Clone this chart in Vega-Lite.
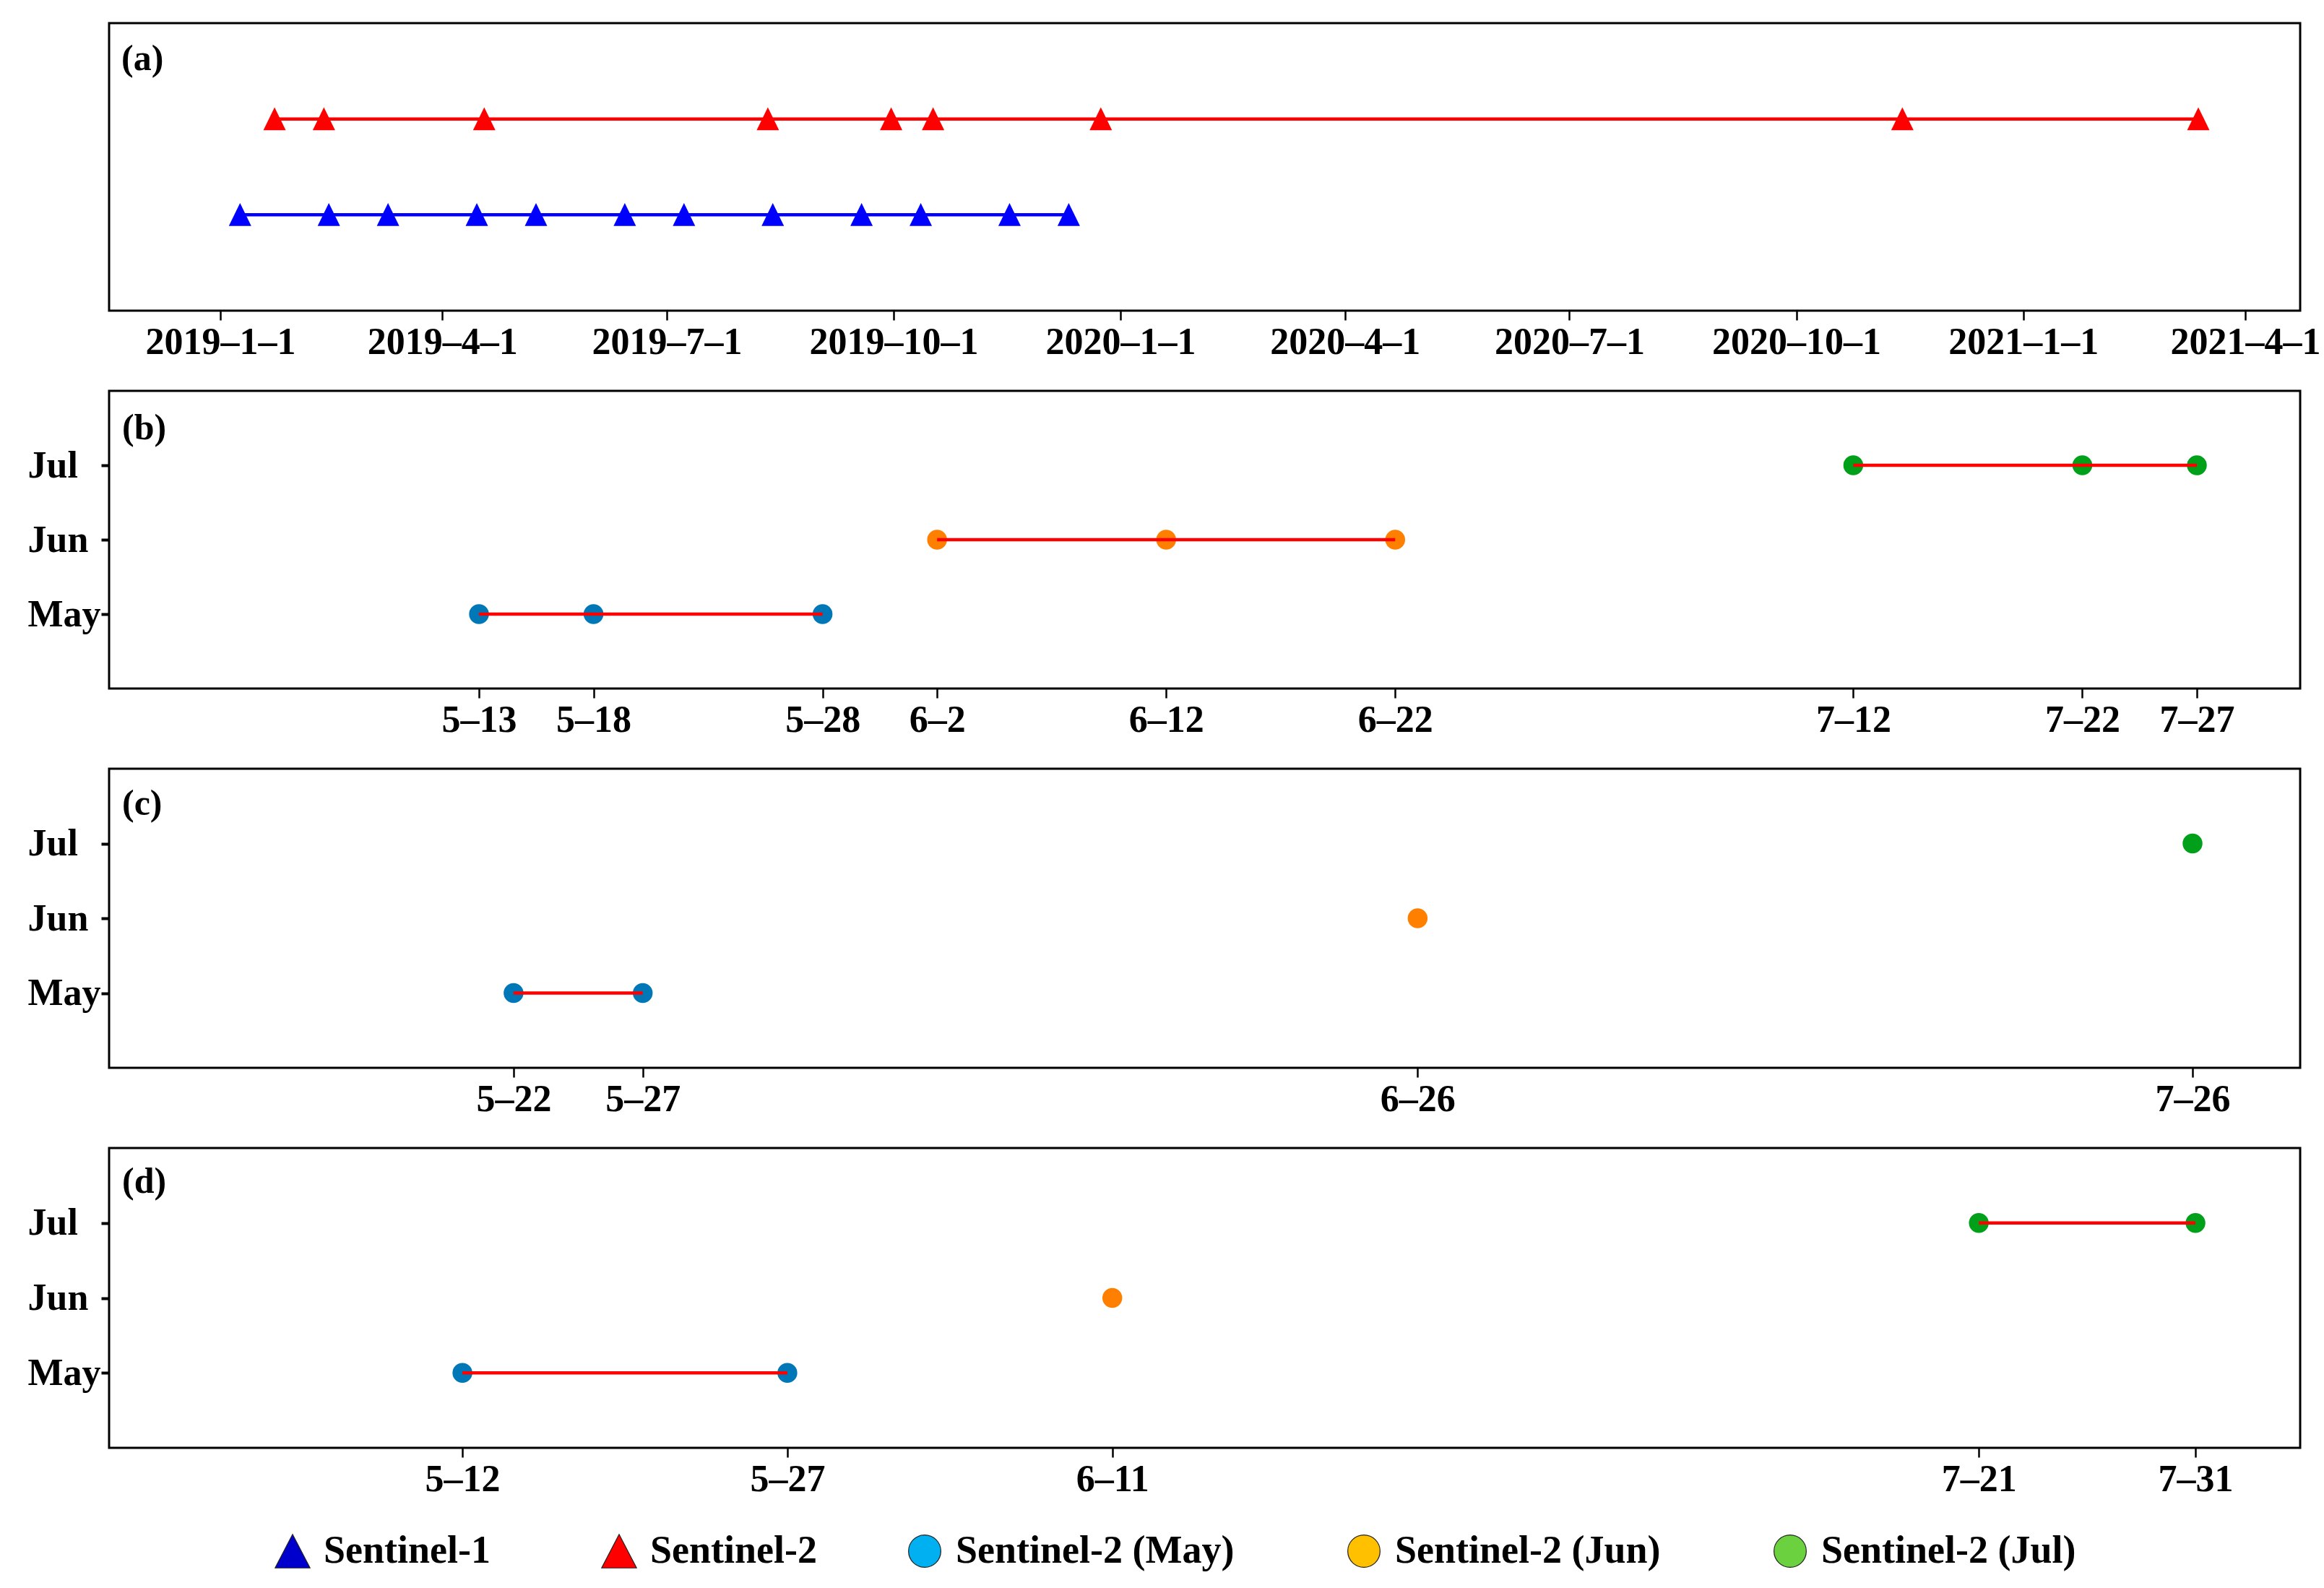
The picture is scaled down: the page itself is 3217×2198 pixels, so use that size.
{
  "$schema": "https://vega.github.io/schema/vega-lite/v6.json",
  "background": "white",
  "padding": {"left": 36, "top": 30, "right": 5, "bottom": 5},
  "datasets": {
    "a": [
      {"sensor": "Sentinel-1", "date": "2019-01-09"},
      {"sensor": "Sentinel-1", "date": "2019-02-14"},
      {"sensor": "Sentinel-1", "date": "2019-03-10"},
      {"sensor": "Sentinel-1", "date": "2019-04-15"},
      {"sensor": "Sentinel-1", "date": "2019-05-09"},
      {"sensor": "Sentinel-1", "date": "2019-06-14"},
      {"sensor": "Sentinel-1", "date": "2019-07-08"},
      {"sensor": "Sentinel-1", "date": "2019-08-13"},
      {"sensor": "Sentinel-1", "date": "2019-09-18"},
      {"sensor": "Sentinel-1", "date": "2019-10-12"},
      {"sensor": "Sentinel-1", "date": "2019-11-17"},
      {"sensor": "Sentinel-1", "date": "2019-12-11"},
      {"sensor": "Sentinel-2", "date": "2019-01-23"},
      {"sensor": "Sentinel-2", "date": "2019-02-12"},
      {"sensor": "Sentinel-2", "date": "2019-04-18"},
      {"sensor": "Sentinel-2", "date": "2019-08-11"},
      {"sensor": "Sentinel-2", "date": "2019-09-30"},
      {"sensor": "Sentinel-2", "date": "2019-10-17"},
      {"sensor": "Sentinel-2", "date": "2019-12-24"},
      {"sensor": "Sentinel-2", "date": "2020-11-13"},
      {"sensor": "Sentinel-2", "date": "2021-03-13"}
    ],
    "b": [
      {"month": "May", "date": "2019-05-13"},
      {"month": "May", "date": "2019-05-18"},
      {"month": "May", "date": "2019-05-28"},
      {"month": "Jun", "date": "2019-06-02"},
      {"month": "Jun", "date": "2019-06-12"},
      {"month": "Jun", "date": "2019-06-22"},
      {"month": "Jul", "date": "2019-07-12"},
      {"month": "Jul", "date": "2019-07-22"},
      {"month": "Jul", "date": "2019-07-27"}
    ],
    "c": [
      {"month": "May", "date": "2019-05-22"},
      {"month": "May", "date": "2019-05-27"},
      {"month": "Jun", "date": "2019-06-26"},
      {"month": "Jul", "date": "2019-07-26"}
    ],
    "d": [
      {"month": "May", "date": "2019-05-12"},
      {"month": "May", "date": "2019-05-27"},
      {"month": "Jun", "date": "2019-06-11"},
      {"month": "Jul", "date": "2019-07-21"},
      {"month": "Jul", "date": "2019-07-31"}
    ],
    "panelA": [{"panel": "(a)", "sensor": "Sentinel-2", "date": "2018-11-16T21:36:00Z"}],
    "panelB": [{"panel": "(b)", "month": "Jul", "date": "2019-04-26T20:24:00Z"}],
    "panelC": [{"panel": "(c)", "month": "Jul", "date": "2019-05-06T08:10:00Z"}],
    "panelD": [{"panel": "(d)", "month": "Jul", "date": "2019-04-25T16:34:00Z"}],
    "legendSensors": [
      {"item": "Sentinel-1"},
      {"item": "Sentinel-2"}
    ],
    "legendMonths": [
      {"item": "Sentinel-2 (May)"},
      {"item": "Sentinel-2 (Jun)"},
      {"item": "Sentinel-2 (Jul)"}
    ]
  },
  "spacing": 38,
  "resolve": {"scale": {"x": "independent", "y": "independent", "color": "independent", "shape": "independent", "fill": "independent"}},
  "vconcat": [
    {
      "width": 3033,
      "height": 398,
      "encoding": {
        "x": {
          "field": "date", "type": "temporal", "title": null,
          "scale": {"type": "utc", "domain": [{"year": 2018, "month": 11, "date": 16, "hours": 21, "minutes": 36, "utc": true}, {"year": 2021, "month": 4, "date": 23, "hours": 7, "utc": true}]},
          "axis": {
            "labelExpr": "utcFormat(datum.value, '%Y–%-m–%-d')",
            "values": [
              {"year": 2019, "month": 1, "date": 1, "utc": true},
              {"year": 2019, "month": 4, "date": 1, "utc": true},
              {"year": 2019, "month": 7, "date": 1, "utc": true},
              {"year": 2019, "month": 10, "date": 1, "utc": true},
              {"year": 2020, "month": 1, "date": 1, "utc": true},
              {"year": 2020, "month": 4, "date": 1, "utc": true},
              {"year": 2020, "month": 7, "date": 1, "utc": true},
              {"year": 2020, "month": 10, "date": 1, "utc": true},
              {"year": 2021, "month": 1, "date": 1, "utc": true},
              {"year": 2021, "month": 4, "date": 1, "utc": true}
            ]
          }
        },
        "y": {"field": "sensor", "type": "ordinal", "title": null, "axis": null, "scale": {"type": "point", "domain": ["Sentinel-2", "Sentinel-1"], "padding": 1}}
      },
      "layer": [
        {"data": {"name": "a"}, "mark": {"type": "line", "strokeWidth": 4.5}, "encoding": {"detail": {"field": "sensor"}, "color": {"field": "sensor", "type": "nominal", "legend": null, "scale": {"domain": ["Sentinel-1", "Sentinel-2"], "range": ["#0000ff", "#ff0000"]}}}},
        {"data": {"name": "a"}, "mark": {"type": "point", "filled": true, "opacity": 1, "shape": "M0,-1.05L-1,1L1,1Z", "size": 961}, "encoding": {"color": {"field": "sensor", "type": "nominal", "legend": null, "scale": {"domain": ["Sentinel-1", "Sentinel-2"], "range": ["#0000ff", "#ff0000"]}}}},
        {
          "data": {"name": "panelA"},
          "mark": {"type": "text", "align": "left", "baseline": "middle", "dx": 17, "dy": -83, "fontSize": 50, "font": "Liberation Serif", "fontWeight": "bold", "fill": "#000"},
          "encoding": {"text": {"field": "panel", "type": "nominal"}}
        }
      ]
    },
    {
      "width": 3033,
      "height": 412,
      "encoding": {
        "x": {
          "field": "date", "type": "temporal", "title": null,
          "scale": {"type": "utc", "domain": [{"year": 2019, "month": 4, "date": 26, "hours": 20, "minutes": 24, "utc": true}, {"year": 2019, "month": 7, "date": 31, "hours": 12, "minutes": 14, "utc": true}]},
          "axis": {
            "labelExpr": "utcFormat(datum.value, '%-m–%-d')",
            "values": [
              {"year": 2019, "month": 5, "date": 13, "utc": true},
              {"year": 2019, "month": 5, "date": 18, "utc": true},
              {"year": 2019, "month": 5, "date": 28, "utc": true},
              {"year": 2019, "month": 6, "date": 2, "utc": true},
              {"year": 2019, "month": 6, "date": 12, "utc": true},
              {"year": 2019, "month": 6, "date": 22, "utc": true},
              {"year": 2019, "month": 7, "date": 12, "utc": true},
              {"year": 2019, "month": 7, "date": 22, "utc": true},
              {"year": 2019, "month": 7, "date": 27, "utc": true}
            ]
          }
        },
        "y": {"field": "month", "type": "ordinal", "title": null, "scale": {"type": "point", "domain": ["Jul", "Jun", "May"], "padding": 1}}
      },
      "layer": [
        {"data": {"name": "b"}, "mark": {"type": "circle", "size": 755, "opacity": 1}, "encoding": {"color": {"field": "month", "type": "nominal", "legend": null, "scale": {"domain": ["May", "Jun", "Jul"], "range": ["#0077b6", "#ff8000", "#00a01a"]}}}},
        {"data": {"name": "b"}, "mark": {"type": "line", "color": "#ff0000", "strokeWidth": 4.5}, "encoding": {"detail": {"field": "month"}}},
        {
          "data": {"name": "panelB"},
          "mark": {"type": "text", "align": "left", "baseline": "middle", "dx": 18, "dy": -51, "fontSize": 50, "font": "Liberation Serif", "fontWeight": "bold", "fill": "#000"},
          "encoding": {"text": {"field": "panel", "type": "nominal"}}
        }
      ]
    },
    {
      "width": 3033,
      "height": 414,
      "encoding": {
        "x": {
          "field": "date", "type": "temporal", "title": null,
          "scale": {"type": "utc", "domain": [{"year": 2019, "month": 5, "date": 6, "hours": 8, "minutes": 10, "utc": true}, {"year": 2019, "month": 7, "date": 30, "hours": 4, "utc": true}]},
          "axis": {
            "labelExpr": "utcFormat(datum.value, '%-m–%-d')",
            "values": [
              {"year": 2019, "month": 5, "date": 22, "utc": true},
              {"year": 2019, "month": 5, "date": 27, "utc": true},
              {"year": 2019, "month": 6, "date": 26, "utc": true},
              {"year": 2019, "month": 7, "date": 26, "utc": true}
            ]
          }
        },
        "y": {"field": "month", "type": "ordinal", "title": null, "scale": {"type": "point", "domain": ["Jul", "Jun", "May"], "padding": 1}}
      },
      "layer": [
        {"data": {"name": "c"}, "mark": {"type": "circle", "size": 755, "opacity": 1}, "encoding": {"color": {"field": "month", "type": "nominal", "legend": null, "scale": {"domain": ["May", "Jun", "Jul"], "range": ["#0077b6", "#ff8000", "#00a01a"]}}}},
        {"data": {"name": "c"}, "mark": {"type": "line", "color": "#ff0000", "strokeWidth": 4.5}, "encoding": {"detail": {"field": "month"}}},
        {
          "data": {"name": "panelC"},
          "mark": {"type": "text", "align": "left", "baseline": "middle", "dx": 18, "dy": -55, "fontSize": 50, "font": "Liberation Serif", "fontWeight": "bold", "fill": "#000"},
          "encoding": {"text": {"field": "panel", "type": "nominal"}}
        }
      ]
    },
    {
      "width": 3033,
      "height": 415,
      "resolve": {"scale": {"color": "independent", "shape": "independent"}},
      "encoding": {
        "x": {
          "field": "date", "type": "temporal", "title": null,
          "scale": {"type": "utc", "domain": [{"year": 2019, "month": 4, "date": 25, "hours": 16, "minutes": 34, "utc": true}, {"year": 2019, "month": 8, "date": 4, "hours": 20, "utc": true}]},
          "axis": {
            "labelExpr": "utcFormat(datum.value, '%-m–%-d')",
            "values": [
              {"year": 2019, "month": 5, "date": 12, "utc": true},
              {"year": 2019, "month": 5, "date": 27, "utc": true},
              {"year": 2019, "month": 6, "date": 11, "utc": true},
              {"year": 2019, "month": 7, "date": 21, "utc": true},
              {"year": 2019, "month": 7, "date": 31, "utc": true}
            ]
          }
        },
        "y": {"field": "month", "type": "ordinal", "title": null, "scale": {"type": "point", "domain": ["Jul", "Jun", "May"], "padding": 1}}
      },
      "layer": [
        {"data": {"name": "d"}, "mark": {"type": "circle", "size": 755, "opacity": 1}, "encoding": {"color": {"field": "month", "type": "nominal", "legend": null, "scale": {"domain": ["May", "Jun", "Jul"], "range": ["#0077b6", "#ff8000", "#00a01a"]}}}},
        {"data": {"name": "d"}, "mark": {"type": "line", "color": "#ff0000", "strokeWidth": 4.5}, "encoding": {"detail": {"field": "month"}}},
        {
          "data": {"name": "panelD"},
          "mark": {"type": "text", "align": "left", "baseline": "middle", "dx": 18, "dy": -57, "fontSize": 50, "font": "Liberation Serif", "fontWeight": "bold", "fill": "#000"},
          "encoding": {"text": {"field": "panel", "type": "nominal"}}
        },
        {
          "data": {"name": "legendSensors"},
          "transform": [{"filter": "false"}],
          "mark": {"type": "point", "filled": true, "opacity": 1},
          "encoding": {
            "x": null,
            "y": null,
            "color": {
              "field": "item", "type": "nominal",
              "scale": {"domain": ["Sentinel-1", "Sentinel-2"], "range": ["#0000cd", "#ff0000"]},
              "legend": {"orient": "none", "direction": "horizontal", "columns": 2, "legendX": 227, "legendY": 531, "title": null}
            },
            "shape": {
              "field": "item", "type": "nominal",
              "scale": {"domain": ["Sentinel-1", "Sentinel-2"], "range": ["M0,-1.04L-1.08,1.04L1.08,1.04Z", "M0,-1.04L-1.08,1.04L1.08,1.04Z"]},
              "legend": {"orient": "none", "direction": "horizontal", "columns": 2, "legendX": 227, "legendY": 531, "title": null}
            }
          }
        },
        {
          "data": {"name": "legendMonths"},
          "transform": [{"filter": "false"}],
          "mark": {"type": "point", "filled": true, "opacity": 1, "shape": "circle"},
          "encoding": {
            "x": null,
            "y": null,
            "color": {
              "field": "item", "type": "nominal",
              "scale": {"domain": ["Sentinel-2 (May)", "Sentinel-2 (Jun)", "Sentinel-2 (Jul)"], "range": ["#00b0f0", "#ffc000", "#6cd13f"]},
              "legend": {"orient": "none", "direction": "horizontal", "columns": 3, "legendX": 1102, "legendY": 531, "title": null, "symbolType": "circle", "columnPadding": 152}
            }
          }
        }
      ]
    }
  ],
  "config": {
    "font": "Liberation Serif",
    "view": {"stroke": "#000", "strokeWidth": 3},
    "axis": {"domain": false, "grid": false, "labelFont": "Liberation Serif", "labelFontWeight": "bold", "labelFontSize": 52, "labelColor": "#000", "tickColor": "#000", "labelOverlap": false, "labelFlush": false, "labelLimit": 1000},
    "axisX": {"tickSize": 13, "tickWidth": 2.5, "labelPadding": 5},
    "axisY": {"tickSize": 11, "tickWidth": 4, "labelPadding": 102, "labelAlign": "left", "labelBaseline": "middle"},
    "legend": {"labelFont": "Liberation Serif", "labelFontWeight": "bold", "labelFontSize": 54, "labelColor": "#000", "symbolStrokeColor": "#222", "symbolStrokeWidth": 1.2, "symbolSize": 2000, "labelOffset": 16, "columnPadding": 150, "padding": 0, "rowPadding": 0, "labelLimit": 1000}
  }
}
